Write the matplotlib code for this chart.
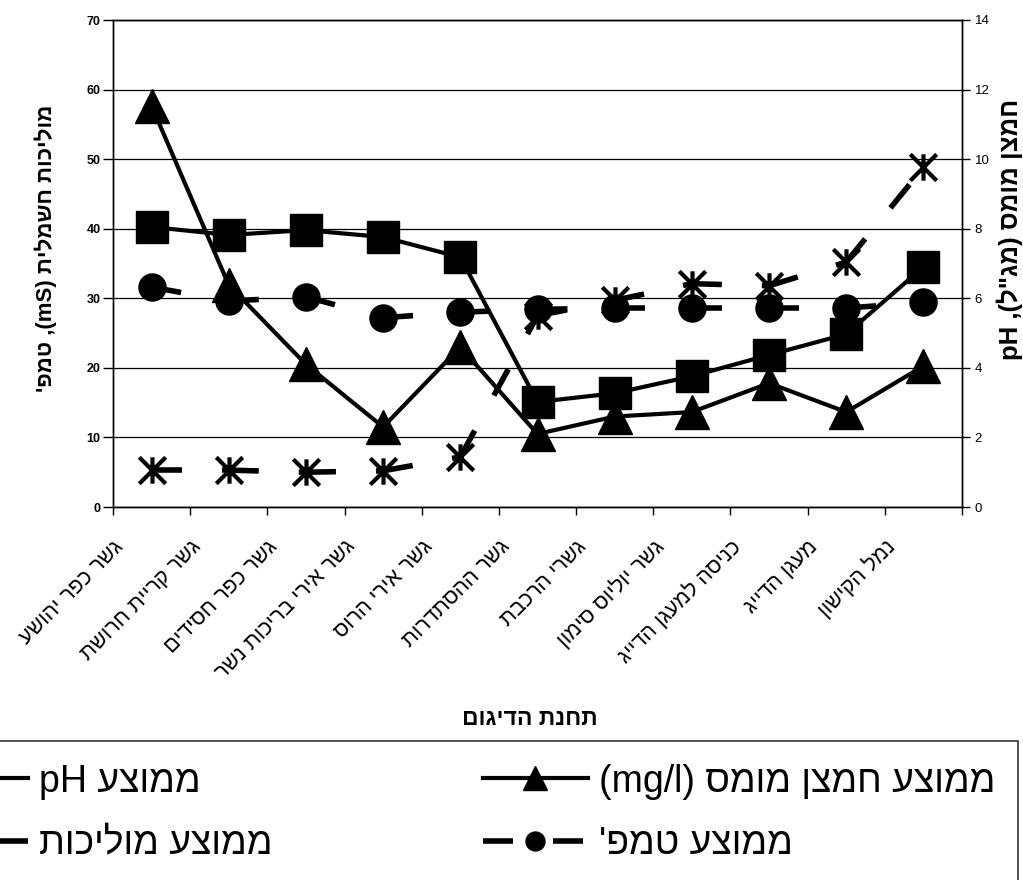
import matplotlib
matplotlib.use('Agg')
import matplotlib.pyplot as plt
from matplotlib.path import Path
from matplotlib.lines import Line2D
import numpy as np

plt.rcParams['font.family'] = ['Liberation Sans', 'DejaVu Sans']

# ---- data (logical Hebrew order) ----
stations = ["גשר כפר יהושע", "גשר קריית חרושת", "גשר כפר חסידים", "גשר אירי בריכות נשר",
            "גשר אירי הרוס", "גשר ההסתדרות", "גשרי הרכבת", "גשר יוליוס סימון",
            "כניסה למעגן הדייג", "מעגן הדייג", "נמל הקישון"]
ph_avg = [8.05, 7.82, 7.96, 7.76, 7.18, 3.02, 3.27, 3.76, 4.37, 4.97, 6.9]
do_avg = [11.53, 6.38, 4.1, 2.3, 4.6, 2.1, 2.6, 2.73, 3.56, 2.73, 4.05]
cond_avg = [5.3, 5.3, 5.0, 5.2, 7.2, 27.5, 29.7, 32.1, 31.8, 35.2, 48.8]
temp_avg = [31.6, 29.6, 30.2, 27.2, 28.0, 28.4, 28.6, 28.6, 28.6, 28.6, 29.4]
left_ticks = [0, 10, 20, 30, 40, 50, 60, 70]
right_ticks = [0, 2, 4, 6, 8, 10, 12, 14]

# visual (left-to-right) forms of the Hebrew texts
station_labels = [s[::-1] for s in stations]
left_ylabel = "'פמט ,(mS) תילמשח תוכילומ"
right_ylabel = 'pH ,(ל"גמ) סמומ ןצמח'
xlabel = "םוגידה תנחת"
leg_ph = "pH עצוממ"
leg_cond = "תוכילומ עצוממ"
leg_do = "(mg/l) סמומ ןצמח עצוממ"
leg_temp = "'פמט עצוממ"

W, H = 1023, 880
fig = plt.figure(figsize=(W / 100, H / 100), dpi=100)
ax = fig.add_axes([113 / W, 1 - 507 / H, 849 / W, 487 / H])
ax2 = ax.twinx()

x = np.arange(len(stations))

# asterisk marker (vertical bar + X)
star = Path([(0, -1), (0, 1), (-1, -1), (1, 1), (-1, 1), (1, -1)],
            [Path.MOVETO, Path.LINETO, Path.MOVETO, Path.LINETO, Path.MOVETO, Path.LINETO])

dash = (0, (5.4, 7.2))
dlw = 4.0

# dashed series: the dash pattern restarts at every point (as in the original chart)
for i in range(len(x) - 1):
    ax.plot(x[i:i + 2], cond_avg[i:i + 2], color='k', lw=dlw, linestyle=dash,
            dash_capstyle='butt', zorder=2)
    ax.plot(x[i:i + 2], temp_avg[i:i + 2], color='k', lw=dlw, linestyle=dash,
            dash_capstyle='butt', zorder=2)
ax.plot(x, cond_avg, linestyle='none', marker=star, ms=19, mew=3, mec='k', zorder=3)
ax.plot(x, temp_avg, linestyle='none', marker='o', ms=19.5, mfc='k', mec='k', zorder=4)
ax2.plot(x, do_avg, color='k', lw=3, marker='^', ms=25, mfc='k', mec='k', zorder=3)
ax2.plot(x, ph_avg, color='k', lw=3, marker='s', ms=23, mfc='k', mec='k', zorder=4)

ax.set_xlim(-0.5, len(stations) - 0.5)
ax.set_ylim(0, 70)
ax2.set_ylim(0, 14)
ax.set_yticks(left_ticks)
ax2.set_yticks(right_ticks)
ax.set_yticklabels([str(t) for t in left_ticks], fontsize=9, fontweight='bold')
ax2.set_yticklabels([str(t) for t in right_ticks], fontsize=9.5)
ax.tick_params(axis='y', length=7, width=1, color='k', pad=2, direction='out')
ax2.tick_params(axis='y', length=6, width=1, color='k', pad=3, direction='out')

ax.yaxis.grid(True, color='k', lw=0.9)
ax.set_axisbelow(True)

# x: boundary ticks (major), labels on minor ticks
ax.xaxis.remove_overlapping_locs = False
ax.set_xticks(np.arange(-0.5, len(stations), 1.0))
ax.set_xticklabels([])
ax.set_xticks(x - 0.5, minor=True)
ax.set_xticklabels(station_labels, minor=True, rotation=45, ha='right',
                   rotation_mode='anchor', fontsize=15.5)
ax.tick_params(axis='x', which='major', length=6, width=1, direction='out')
ax.tick_params(axis='x', which='minor', length=0, pad=21)

for sp in list(ax.spines.values()) + list(ax2.spines.values()):
    sp.set_color('k')
    sp.set_linewidth(1)

fig.text(46 / W, 1 - 248 / H, left_ylabel, rotation=90, ha='center', va='center',
         fontsize=16, fontweight='bold')
fig.text(1010 / W, 1 - 229 / H, right_ylabel, rotation=90, ha='center', va='center',
         fontsize=18.5, fontweight='bold')
fig.text(530 / W, 1 - 718 / H, xlabel, ha='center', va='center',
         fontsize=16.5, fontweight='bold')

# legend (partly clipped on the left, as in the reference)
h_ph = Line2D([], [], color='k', lw=3, marker='s', ms=23, mfc='k')
h_cond = Line2D([], [], color='k', lw=dlw, linestyle=dash, dash_capstyle='butt',
                marker=star, ms=19, mew=3)
h_do = Line2D([], [], color='k', lw=3, marker='^', ms=25, mfc='k')
h_temp = Line2D([], [], color='k', lw=dlw, linestyle=dash, dash_capstyle='butt',
                marker='o', ms=19.5, mfc='k')
leg = fig.legend([h_ph, h_cond, h_do, h_temp], [leg_ph, leg_cond, leg_do, leg_temp],
                 ncol=2, loc='upper right', bbox_to_anchor=(1018 / W, 1 - 741 / H),
                 fontsize=27, frameon=True, fancybox=False, edgecolor='k',
                 borderpad=0.6, labelspacing=0.7, handlelength=2.8, handletextpad=0.3,
                 columnspacing=5.6, markerscale=0.7, borderaxespad=0)
leg.get_frame().set_linewidth(1.2)

fig.savefig('out.png', dpi=100)
